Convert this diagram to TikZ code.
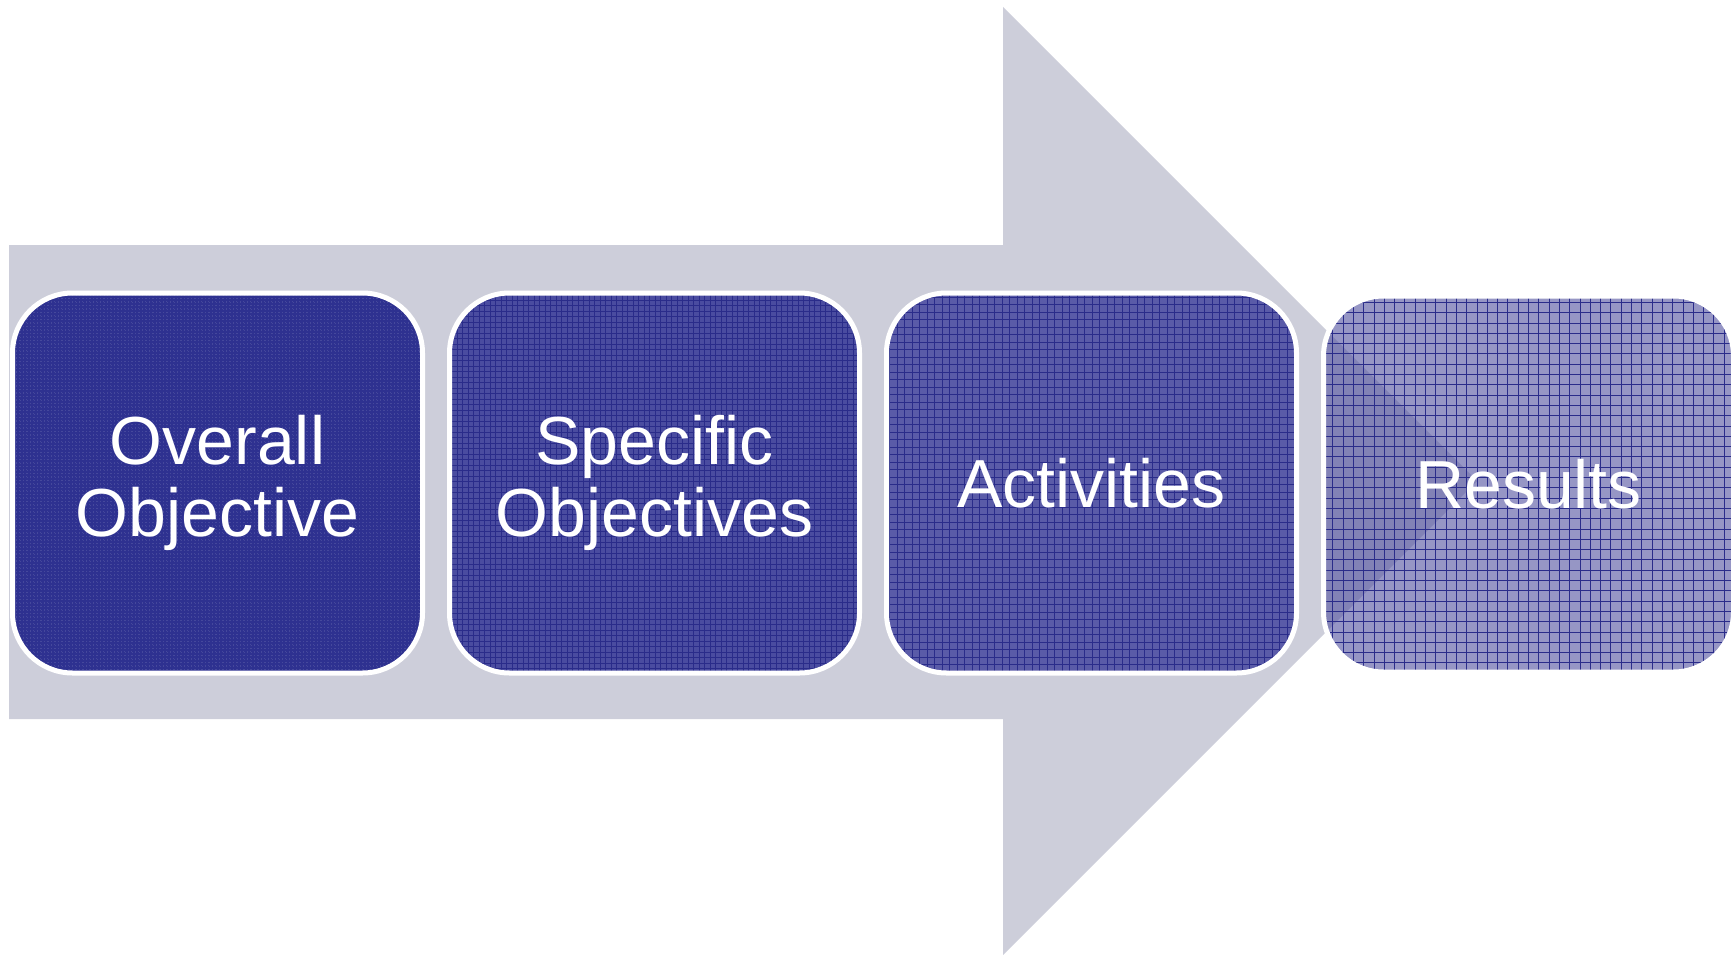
\documentclass[tikz,border=0pt]{standalone}
\usepackage{fontspec}
\setmainfont{Liberation Sans}
\definecolor{arrowgray}{HTML}{CDCEDA}
\definecolor{boxone}{HTML}{2E3190}
\definecolor{boxtwo}{HTML}{4A4CA0}
\definecolor{boxthree}{HTML}{5A5BA8}
\definecolor{boxfour}{HTML}{50509F}
\definecolor{gridline}{HTML}{2A2C8A}
\begin{document}
\begin{tikzpicture}[x=1pt,y=-1pt,
  stagebox/.style={rounded corners=60pt, draw=white, line width=5pt,
    minimum width=410pt, minimum height=380pt, inner sep=0pt,
    text=white, align=center, font=\fontsize{68}{72}\selectfont},
  gridfill/.style n args={3}{path picture={
    \draw[#1, line width=#3]
      (path picture bounding box.south west) grid[step=#2]
      (path picture bounding box.north east);}}
  ]
\useasboundingbox (0,0) rectangle (1732,955);
% big background arrow
\fill[arrowgray] (9,245) -- (1003,245) -- (1003,7) -- (1477,481)
  -- (1003,955) -- (1003,719) -- (9,719) -- cycle;
% stages
\node[stagebox, fill=boxone,
  gridfill={draw=boxone!55!white, draw opacity=0.25, dash pattern=on 1pt off 2.5pt}{3.5pt}{0.8pt}]
  (overall) at (217.5,483) {Overall\\Objective};
\node[stagebox, fill=boxtwo, gridfill={draw=gridline}{5.5pt}{0.7pt}]
  (specific) at (654.5,483) {Specific\\Objectives};
\node[stagebox, fill=boxthree, gridfill={draw=gridline}{7.5pt}{0.8pt}]
  (activities) at (1091.5,483) {Activities};
\node[stagebox, fill=boxfour, fill opacity=0.6, text opacity=1,
  minimum height=376pt, gridfill={draw=gridline}{10.3pt}{0.8pt}]
  (results) at (1528.5,484) {Results};
\end{tikzpicture}
\end{document}
